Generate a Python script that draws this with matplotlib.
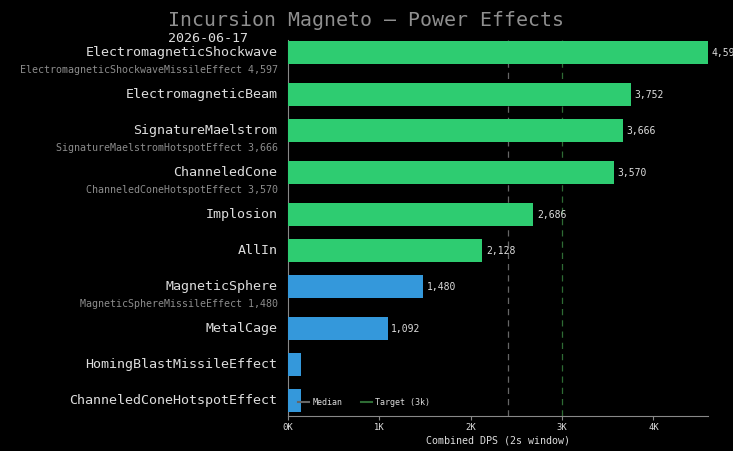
import numpy as np
import matplotlib.pyplot as plt

plt.rcParams['font.family'] = ['DejaVu Sans Mono']

labels = ["ElectromagneticShockwave", "ElectromagneticBeam", "SignatureMaelstrom",
          "ChanneledCone", "Implosion", "AllIn", "MagneticSphere", "MetalCage",
          "HomingBlastMissileEffect", "ChanneledConeHotspotEffect"]
dps = [4597, 3752, 3666, 3570, 2686, 2128, 1480, 1092, 140, 140]
sub_labels = ["ElectromagneticShockwaveMissileEffect 4,597", "", "SignatureMaelstromHotspotEffect 3,666",
              "ChanneledConeHotspotEffect 3,570", "", "", "MagneticSphereMissileEffect 1,480", "", "", ""]
target = 3000
median = np.median(dps)

BG = "black"
GREEN = "#2ecc71"
BLUE = "#3498db"
TXT = "#dddddd"
SUB = "#8c8c8c"

# rows with a sub label get a bit more room below them
ypos = []
y = 0.0
for s in sub_labels:
    ypos.append(y)
    y += 1 + (1 / 6 if s else 0)
ypos = np.array(ypos)

fig = plt.figure(figsize=(7.33, 4.51), dpi=100, facecolor=BG)
ax = fig.add_axes([288 / 733, 1 - 416 / 451, 420 / 733, 376 / 451])
ax.set_facecolor(BG)

colors = [GREEN if v >= 2000 else BLUE for v in dps]
ax.barh(ypos, dps, height=0.64, color=colors, zorder=3)

ax.axvline(median, color="#666666", lw=0.9, ls=(0, (5, 4)), zorder=1, label="Median")
ax.axvline(target, color="#2e6b34", lw=0.9, ls=(0, (5, 4)), zorder=1, label="Target (3k)")

for yy, v in zip(ypos, dps):
    if v >= 500:
        ax.annotate(f"{v:,}", (v, yy), xytext=(2.5, 0), textcoords="offset points",
                    va="center", ha="left", fontsize=7, color=TXT, zorder=4)

for yy, name, s in zip(ypos, labels, sub_labels):
    ax.annotate(name, (0, yy), xycoords=("axes fraction", "data"), xytext=(-7.5, 0),
                textcoords="offset points", ha="right", va="center", fontsize=9.6, color=TXT)
    if s:
        ax.annotate(s, (0, yy), xycoords=("axes fraction", "data"), xytext=(-7.5, -12.3),
                    textcoords="offset points", ha="right", va="center", fontsize=7.2, color=SUB)

ax.set_ylim(ypos[-1] + 0.42, -0.36)
ax.set_yticks([])
ax.set_xlim(0, max(dps))
ax.set_xticks([0, 1000, 2000, 3000, 4000])
ax.set_xticklabels(["0K", "1K", "2K", "3K", "4K"])
ax.tick_params(axis="x", colors="#888888", labelcolor=TXT, labelsize=6.4, length=3, width=0.8, pad=2)
ax.set_xlabel("Combined DPS (2s window)", fontsize=7.2, color=TXT, labelpad=2.5)

for side in ["top", "right"]:
    ax.spines[side].set_visible(False)
for side in ["left", "bottom"]:
    ax.spines[side].set_color("#888888")
    ax.spines[side].set_linewidth(0.8)

leg = ax.legend(loc="lower left", bbox_to_anchor=(0.005, 0.005), ncol=2, frameon=False,
                fontsize=6, handlelength=1.4, handletextpad=0.35, columnspacing=2.2,
                labelcolor=TXT)
for line in leg.get_lines():
    line.set_linestyle("-")
    line.set_linewidth(1.5)

fig.text(0.5, 1 - 20 / 451, "Incursion Magneto \u2014 Power Effects", ha="center", va="center",
         fontsize=14.3, color="#8f8f8f")
fig.text(168 / 733, 1 - 38 / 451, "2026-06-17", ha="left", va="center", fontsize=9.6, color=TXT)

fig.savefig("out.png", dpi=100, facecolor=BG)
